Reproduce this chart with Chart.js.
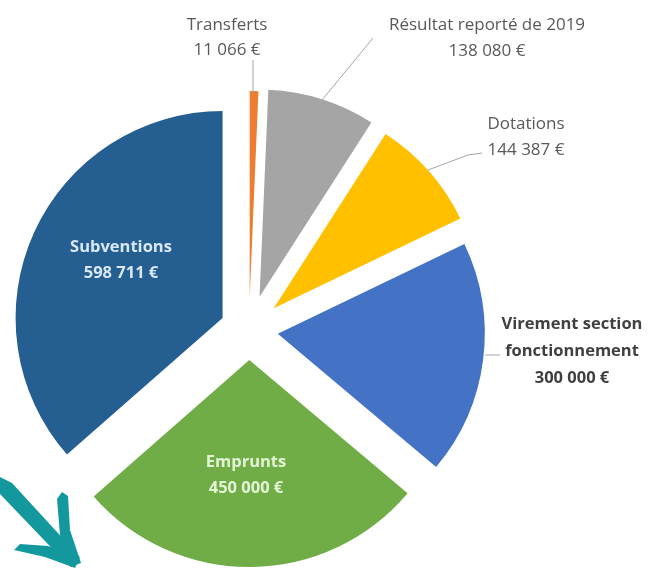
<!DOCTYPE html>
<html>
<head>
<meta charset="utf-8">
<script src="https://cdn.jsdelivr.net/npm/chart.js@4"></script>
<style>
  body { margin: 0; background: #fff; }
  canvas { display: block; }
</style>
</head>
<body>
<canvas id="budgetChart" width="651" height="570"></canvas>
<script>
const categories = ['Transferts', 'Résultat reporté de 2019', 'Dotations', 'Virement section fonctionnement', 'Emprunts', 'Subventions'];
const amounts = [11066, 138080, 144387, 300000, 450000, 598711];
const sliceColors = ['#ED7D31', '#A5A5A5', '#FFC000', '#4472C4', '#70AD47', '#255E91'];

function euro(v) {
  return String(v).replace(/\B(?=(\d{3})+(?!\d))/g, ' ') + ' €';
}

// pulls each slice out from the centre, like the exploded excel pie
const explode = {
  id: 'explode',
  afterDatasetUpdate(chart, args, opts) {
    args.meta.data.forEach((arc, i) => {
      const mid = (arc.startAngle + arc.endAngle) / 2;
      const d = opts.dist[i] || 0;
      arc.x += Math.cos(mid) * d;
      arc.y += Math.sin(mid) * d;
    });
  }
};

function poly(ctx, pts) {
  ctx.beginPath();
  ctx.moveTo(pts[0][0], pts[0][1]);
  pts.slice(1).forEach(p => ctx.lineTo(p[0], p[1]));
  ctx.closePath();
  ctx.fill();
}

const labels = {
  id: 'sliceLabels',
  afterDraw(chart, args, opts) {
    const ctx = chart.ctx;
    ctx.save();
    // leader lines
    ctx.strokeStyle = '#a6a6a6';
    ctx.lineWidth = 1;
    opts.leaders.forEach(pts => {
      ctx.beginPath();
      ctx.moveTo(pts[0][0], pts[0][1]);
      pts.slice(1).forEach(p => ctx.lineTo(p[0], p[1]));
      ctx.stroke();
    });
    ctx.textAlign = 'center';
    ctx.textBaseline = 'middle';
    opts.items.forEach(it => {
      const lines = it.lines || [categories[it.index]];
      ctx.font = (it.bold ? 'bold 16.5px' : '17px') + ' "Open Sans", sans-serif';
      ctx.fillStyle = it.color;
      lines.concat([euro(amounts[it.index])]).forEach((t, k) => {
        ctx.fillText(t, it.x, it.y + k * it.gap);
      });
    });

    // teal arrow in the corner (decoration)
    ctx.fillStyle = '#13989e';
    poly(ctx, [[0, 477], [0, 494], [66, 563], [79, 556], [12, 483]]);
    poly(ctx, [[57, 499], [62, 492], [68, 496], [70, 530], [81, 563], [70, 567], [60, 535]]);
    poly(ctx, [[14, 550], [20, 544], [48, 546], [80, 557], [75, 568], [45, 557]]);
    ctx.restore();
  }
};

new Chart(document.getElementById('budgetChart'), {
  type: 'pie',
  data: {
    labels: categories,
    datasets: [{
      data: amounts,
      backgroundColor: sliceColors,
      borderWidth: 0,
      clip: false
    }]
  },
  options: {
    responsive: false,
    animation: false,
    layout: { padding: { left: 42, right: 195, top: 123, bottom: 33 } },
    plugins: {
      legend: { display: false },
      tooltip: { enabled: false },
      explode: { dist: [32, 35, 33, 29, 30, 29] },
      sliceLabels: {
        leaders: [
          [[253, 60], [253, 93]],
          [[373, 38], [322, 100]],
          [[482, 153], [468, 155], [428, 170]],
          [[485, 355], [500, 355]]
        ],
        items: [
          { index: 0, x: 227, y: 25, gap: 25, color: '#595959' },
          { index: 1, x: 487, y: 25, gap: 26, color: '#595959' },
          { index: 2, x: 526, y: 124, gap: 26, color: '#595959' },
          { index: 3, x: 572, y: 324, gap: 27, color: '#404040', bold: true, lines: ['Virement section', 'fonctionnement'] },
          { index: 4, x: 246, y: 462, gap: 26, color: '#e4f5d6', bold: true },
          { index: 5, x: 121, y: 247, gap: 26, color: '#d9e8f8', bold: true }
        ]
      }
    }
  },
  plugins: [explode, labels]
});
</script>
</body>
</html>
